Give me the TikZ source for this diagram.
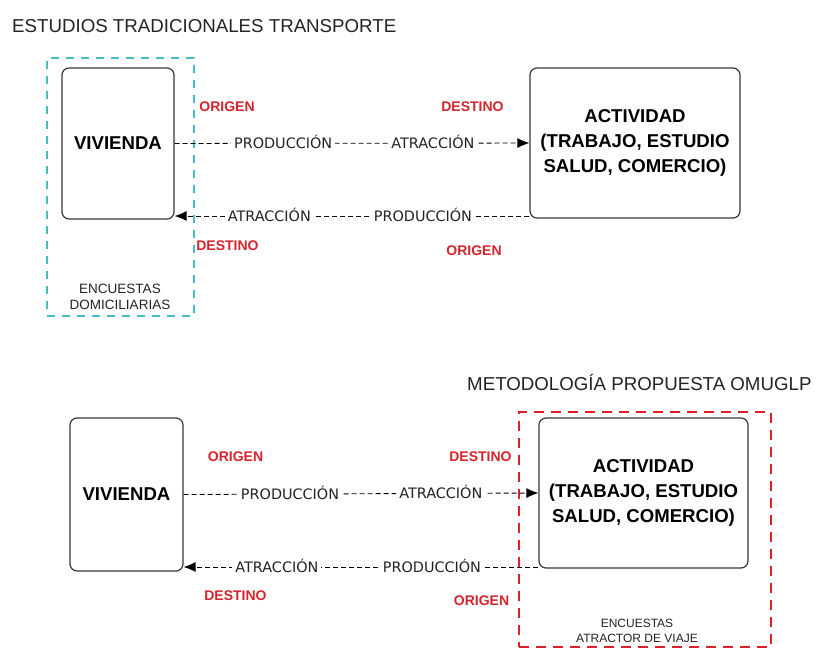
\documentclass[tikz,border=0pt]{standalone}
\usepackage{fontspec}
\setmainfont{Liberation Sans}
\newfontfamily\labfont{DejaVu Sans}
\usetikzlibrary{arrows.meta,positioning}
\definecolor{cyanbox}{RGB}{70,188,196}
\definecolor{redbox}{RGB}{222,32,40}
\definecolor{redtext}{RGB}{214,36,44}
\definecolor{edge}{RGB}{55,55,55}
\definecolor{ink}{RGB}{35,35,35}

\tikzset{
  titulo/.style={anchor=base west, inner sep=0pt, text=ink,
    font=\fontsize{18.7}{22}\selectfont},
  marco/.style={line width=2.7pt, inner sep=0pt, dash pattern=on 8pt off 7pt},
  bloque/.style={draw=edge, line width=1.2pt, rounded corners=7pt,
    align=center, font=\fontsize{18.6}{25}\selectfont\bfseries},
  flujo/.style={draw=black, line width=0.9pt, dash pattern=on 5pt off 3pt,
    -{Latex[length=12pt,width=10pt]}},
  etiq/.style={fill=white, inner sep=3pt, text=ink, text height=10pt,
    text depth=0pt, font=\labfont\fontsize{14.4}{16}\selectfont},
  rotulo/.style={inner sep=0pt, text=redtext,
    font=\fontsize{14}{16}\selectfont\bfseries},
  nota/.style={align=center, inner sep=0pt, text=ink}
}

\begin{document}
\begin{tikzpicture}[x=1pt,y=-1pt]
    \useasboundingbox (0,0) rectangle (820,648);

    % Estudios tradicionales
    \node[titulo] (tit1) at (12,32) {ESTUDIOS TRADICIONALES TRANSPORTE};

    % Encuestas domiciliarias frame
    \node[marco, draw=cyanbox,
        minimum width=147pt,
        minimum height=258pt] (enc1) at (120.5,187) {};

    % Vivienda and actividad
    \node[bloque,
        minimum width=112pt,
        minimum height=151pt] (viv1) at (118,143.5) {VIVIENDA};
    \node[bloque,
        minimum width=210pt,
        minimum height=150pt] (act1) at (635,143)
        {ACTIVIDAD\\(TRABAJO, ESTUDIO\\SALUD, COMERCIO)};

    % Flows
    \draw[flujo] (viv1.east) --
        node[etiq,pos=0.306] {PRODUCCIÓN}
        node[etiq,pos=0.728] {ATRACCIÓN} (act1.west);
    \coordinate (r1) at (0,216);
    \draw[flujo] (act1.west |- r1) --
        node[etiq,pos=0.30] {PRODUCCIÓN}
        node[etiq,pos=0.733] {ATRACCIÓN} (viv1.east |- r1);

    % Origen / destino
    \node[rotulo] (o1) at (227,107) {ORIGEN};
    \node[rotulo] (d1) at (472.5,107) {DESTINO};
    \node[rotulo] (d2) at (227.5,246) {DESTINO};
    \node[rotulo] (o2) at (474,251) {ORIGEN};

    \node[nota, font=\fontsize{13.5}{16}\selectfont] (n1) at (120,297)
        {ENCUESTAS\\DOMICILIARIAS};

    % Metodologia propuesta
    \node[titulo] (tit2) at (467,390) {METODOLOGÍA PROPUESTA OMUGLP};

    % Encuestas atractor frame
    \node[marco, draw=redbox,
        dash pattern=on 10pt off 7pt,
        minimum width=252pt,
        minimum height=235pt] (enc2) at (645,529.5) {};

    % Vivienda and actividad
    \node[bloque,
        minimum width=113pt,
        minimum height=153pt] (viv2) at (126.5,494.5) {VIVIENDA};
    \node[bloque,
        minimum width=209pt,
        minimum height=150pt] (act2) at (643.5,493)
        {ACTIVIDAD\\(TRABAJO, ESTUDIO\\SALUD, COMERCIO)};

    % Flows
    \draw[flujo] (viv2.east) --
        node[etiq,pos=0.30] {PRODUCCIÓN}
        node[etiq,pos=0.725] {ATRACCIÓN} (act2.west);
    \coordinate (r2) at (0,567);
    \draw[flujo] (act2.west |- r2) --
        node[etiq,pos=0.30] {PRODUCCIÓN}
        node[etiq,pos=0.737] {ATRACCIÓN} (viv2.east |- r2);

    % Origen / destino
    \node[rotulo] (o3) at (235.5,457) {ORIGEN};
    \node[rotulo] (d3) at (480.5,457) {DESTINO};
    \node[rotulo] (d4) at (235.5,596) {DESTINO};
    \node[rotulo] (o4) at (481.5,601) {ORIGEN};

    \node[nota, font=\fontsize{12}{15}\selectfont] (n2) at (637,630.5)
        {ENCUESTAS\\ATRACTOR DE VIAJE};

\end{tikzpicture}
\end{document}
